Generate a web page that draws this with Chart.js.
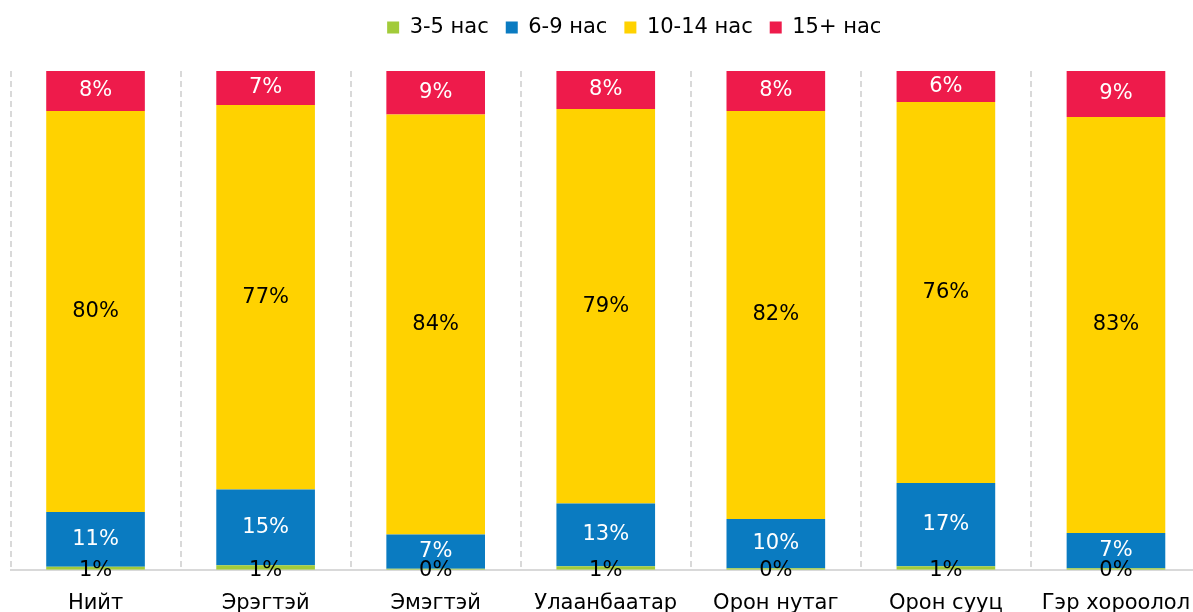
<!DOCTYPE html>
<html>
<head>
<meta charset="utf-8">
<script src="https://cdn.jsdelivr.net/npm/chart.js@4.4.1/dist/chart.umd.min.js"></script>
<style>
  html, body { margin: 0; padding: 0; background: #fff; overflow: hidden; }
  #wrap { width: 1193px; height: 612px; overflow: hidden; }
</style>
</head>
<body>
<div id="wrap"><canvas id="myChart" width="1258" height="637"></canvas></div>
<script>
// categories and shares (%)
const categories = ['Нийт', 'Эрэгтэй', 'Эмэгтэй', 'Улаанбаатар', 'Орон нутаг', 'Орон сууц', 'Гэр хороолол'];
const seriesNames = ['3-5 нас', '6-9 нас', '10-14 нас', '15+ нас'];
const age3to5 = [0.6, 0.9, 0.2, 0.7, 0.3, 0.7, 0.3];
const age6to9 = [11.0, 15.2, 6.9, 12.6, 9.9, 16.7, 7.1];
const age10to14 = [80.4, 77.1, 84.2, 79.1, 81.8, 76.4, 83.4];
const age15plus = [8.0, 6.8, 8.7, 7.6, 8.0, 6.2, 9.2];

const colors = ['#A2CB3A', '#0A7BC1', '#FFD200', '#EE1B4B'];
const labelColors = ['#000', '#fff', '#000', '#fff'];
const FONT = "'DejaVu Sans', Verdana, sans-serif";

// draws the % values on each segment (3-5 values sit on the base line)
const segmentLabels = {
    id: 'segmentLabels',
    afterDatasetsDraw(chart) {
        const ctx = chart.ctx;
        ctx.save();
        ctx.font = '21px ' + FONT;
        ctx.textAlign = 'center';
        ctx.textBaseline = 'middle';
        chart.data.datasets.forEach((ds, i) => {
            const meta = chart.getDatasetMeta(i);
            meta.data.forEach((bar, j) => {
                const v = ds.data[j];
                const y = i === 0 ? bar.base + 1 : (bar.y + bar.base) / 2;
                ctx.fillStyle = labelColors[i];
                ctx.fillText(Math.round(v) + '%', bar.x, y);
            });
        });
        ctx.restore();
    }
};

const myChartRef = document.getElementById('myChart').getContext('2d');
new Chart(myChartRef, {
    type: 'bar',
    data: {
        labels: categories,
        datasets: [age3to5, age6to9, age10to14, age15plus].map((d, i) => ({
            label: seriesNames[i],
            data: d,
            backgroundColor: colors[i],
            borderWidth: 0,
            barPercentage: 0.58,
            categoryPercentage: 1
        }))
    },
    options: {
        responsive: false,
        animation: false,
        devicePixelRatio: 1,
        layout: { padding: { left: 10.5, top: 0, right: 0, bottom: 0 } },
        plugins: {
            legend: {
                position: 'top',
                labels: {
                    boxWidth: 12,
                    boxHeight: 12,
                    padding: 17,
                    color: '#000',
                    font: { family: FONT, size: 21 }
                }
            },
            tooltip: { enabled: false }
        },
        scales: {
            x: {
                stacked: true,
                grid: {
                    display: true,
                    drawTicks: false,
                    color: '#D9D9D9',
                    lineWidth: 2
                },
                border: { display: true, color: '#D9D9D9', width: 2, dash: [6, 4] },
                ticks: {
                    color: '#000',
                    padding: 21,
                    maxRotation: 0,
                    autoSkip: false,
                    font: { family: FONT, size: 21 }
                }
            },
            xTop: {
                position: 'top',
                display: true,
                grid: { display: false },
                border: { display: false },
                ticks: { display: false },
                afterFit: (s) => { s.height = 23; }
            },
            y: {
                stacked: true,
                position: 'right',
                min: 0,
                max: 100,
                grid: { display: false },
                border: { display: false },
                ticks: { display: false },
                afterFit: (s) => { s.width = 57; }
            }
        }
    },
    plugins: [segmentLabels]
});
</script>
</body>
</html>
